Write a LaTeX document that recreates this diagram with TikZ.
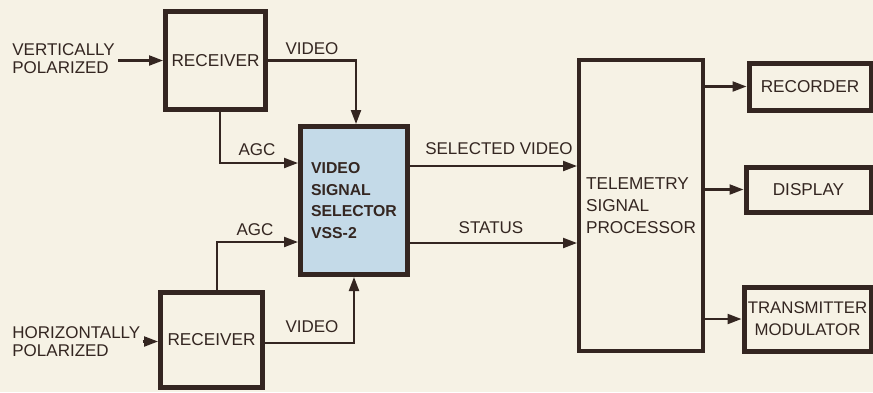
\documentclass[tikz,border=0pt]{standalone}
\usepackage{fontspec}
\setmainfont{Liberation Sans}
\usetikzlibrary{arrows.meta,positioning}
\definecolor{ink}{RGB}{52,38,33}
\definecolor{paper}{RGB}{246,242,229}
\definecolor{selfill}{RGB}{196,218,232}
\begin{document}
\begin{tikzpicture}[x=0.5pt,y=-0.5pt,
  every node/.style={text=ink,font=\fontsize{8.5}{9}\selectfont},
  blk/.style={draw=ink,line width=2.5pt,inner sep=1pt,align=left,font=\fontsize{8.6}{11}\selectfont},
  conn/.style={draw=ink,line width=1.1pt,-{Triangle[length=7pt,width=5pt]}},
  lbl/.style={align=left,inner sep=0pt}]
\fill[paper] (0,0) rectangle (873,392);
\useasboundingbox (0,0) rectangle (873,392);
\node[blk,minimum width=50pt,minimum height=49pt] (recv1) at (215.5,60.5) {RECEIVER};
\node[blk,minimum width=51pt,minimum height=47.5pt] (recv2) at (211.5,340) {RECEIVER};
\node[blk,fill=selfill,minimum width=53.5pt,minimum height=74pt,font=\fontsize{7.9}{10.75}\selectfont\bfseries] (vss) at (354,200.5) {VIDEO\\SIGNAL\\SELECTOR\\VSS-2};
\node[blk,line width=2pt,minimum width=62pt,minimum height=145.5pt] (tsp) at (641,205.5) {TELEMETRY\\SIGNAL\\PROCESSOR};
\node[blk,minimum width=61pt,minimum height=23.5pt] (rec) at (810,86.5) {RECORDER};
\node[blk,minimum width=62.5pt,minimum height=22.5pt] (disp) at (808.5,189.5) {DISPLAY};
\node[blk,align=center,minimum width=63.5pt,minimum height=32pt,font=\fontsize{8.4}{11}\selectfont] (tx) at (807.5,319) {TRANSMITTER\\MODULATOR};
\node[lbl,anchor=west] (vin) at (12,58.5) {VERTICALLY\\POLARIZED};
\node[lbl,anchor=west] (hin) at (12,341.5) {HORIZONTALLY\\POLARIZED};
\node (vid1) at (312,49) {VIDEO};
\node (agc1) at (257,150) {AGC};
\node (agc2) at (255,230) {AGC};
\node (vid2) at (312,327) {VIDEO};
\node (selv) at (499,149) {SELECTED VIDEO};
\node (stat) at (491,228) {STATUS};
\draw[conn] ([xshift=1.5pt]vin.east |- recv1.west) -- (recv1.west);
\draw[conn] ([xshift=1pt]hin.east) -- (hin.east -| recv2.west);
\draw[conn] (recv1.east) -| ([xshift=1pt]vss.north);
\draw[conn] ([xshift=2.25pt]recv1.south) |- ([yshift=18.75pt]vss.west);
\draw[conn] ([xshift=2.75pt]recv2.north) |- ([yshift=-20.75pt]vss.west);
\draw[conn] ([yshift=-1.5pt]recv2.east) -| (vss.south);
\draw[conn] ([yshift=17.25pt]vss.east) -- ([yshift=17.25pt]vss.east -| tsp.west);
\draw[conn] ([yshift=-21.25pt]vss.east) -- ([yshift=-21.25pt]vss.east -| tsp.west);
\foreach \n in {rec,disp,tx} \draw[conn] (\n.west -| tsp.east) -- (\n.west);
\end{tikzpicture}
\end{document}
